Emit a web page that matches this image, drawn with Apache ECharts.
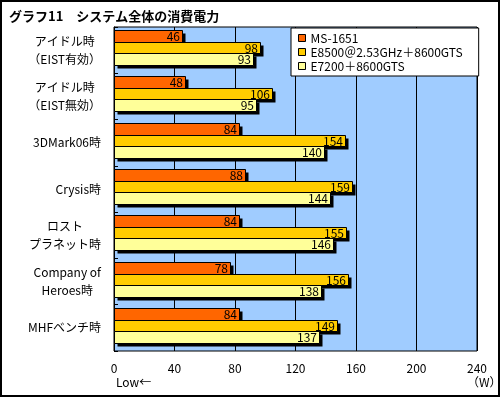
<!DOCTYPE html>
<html><head><meta charset="utf-8">
<script src="https://cdn.jsdelivr.net/npm/echarts@6/dist/echarts.min.js"></script>
<style>
html,body{margin:0;padding:0;background:#fff;}
#wrap{width:500px;height:397px;box-sizing:border-box;border:2px solid #000;position:relative;}
#c{position:absolute;left:-2px;top:-2px;width:500px;height:397px;}
</style></head>
<body><div id="wrap"><div id="c"></div></div>
<script>
const title = 'グラフ11　システム全体の消費電力';
const categories = ['アイドル時\n（EIST有効）','アイドル時\n（EIST無効）','3DMark06時','Crysis時','ロスト\nプラネット時','Company of\nHeroes時','MHFベンチ時'];
const seriesNames = ['MS-1651','E8500＠2.53GHz＋8600GTS','E7200＋8600GTS'];
const ms1651 = [46,48,84,88,84,78,84];
const e8500 = [98,106,154,159,155,156,149];
const e7200 = [93,95,140,144,146,138,137];
const xTicks = [0,40,80,120,160,200,240];
const colors = ['#ff6600','#ffcc00','#ffff99'];
const FONT = '"Noto Sans CJK JP", sans-serif';

const chart = echarts.init(document.getElementById('c'));
const values = [ms1651, e8500, e7200];

function makeRender(si){
  return function(params, api){
    const v = api.value(0), ci = api.value(1);
    const p0 = api.coord([0, ci]);
    const p1 = api.coord([v, ci]);
    const top = Math.round(p0[1] - 20) + Math.round(si*11.7);
    const bottom = Math.round(p0[1] - 20) + Math.round((si+1)*11.7);
    const x0 = Math.round(p0[0]) + 0.5, x1 = Math.round(p1[0]) - 1.5;
    const y = top + 0.5, h = bottom - top, w = x1 - x0;
    return {type:'group', children:[
      {type:'rect', shape:{x:x0+3, y:y+3, width:w, height:h}, style:{fill:'#000'}},
      {type:'rect', shape:{x:x0, y:y, width:w, height:h},
        style:{fill:colors[si], stroke:'#000', lineWidth:1},
        textContent:{style:{text:String(v), fill:'#000', font:'12px '+FONT}},
        textConfig:{position:'insideRight', distance:3}}
    ]};
  };
}

const series = seriesNames.map((n,i)=>({
  name:n, type:'custom', renderItem:makeRender(i),
  encode:{x:0, y:1},
  itemStyle:{color:colors[i], borderColor:'#000', borderWidth:1},
  data:values[i].map((v,j)=>[v,j])
}));

chart.setOption({
  animation:false,
  title:{text:title,left:4,top:5,textStyle:{fontFamily:FONT,fontSize:13,fontWeight:'bold',color:'#000'}},
  legend:{orient:'vertical',left:291,top:28,itemWidth:7,itemHeight:7,itemGap:2,icon:'rect',
    backgroundColor:'#fff',borderColor:'#000',borderWidth:1,padding:[4,16,4,7],
    itemStyle:{borderColor:'#000',borderWidth:1},
    textStyle:{fontFamily:FONT,fontSize:12,color:'#000',padding:[0,0,0,0]},
    data:seriesNames},
  grid:{left:114,right:23,top:27,bottom:46,show:true,backgroundColor:'#a0ccff',borderColor:'#000',borderWidth:1},
  xAxis:{type:'value',min:0,max:240,interval:40,
    axisLine:{show:false},axisTick:{show:false},
    splitLine:{show:true,lineStyle:{color:'#000',width:1}},
    axisLabel:{fontFamily:FONT,fontSize:12,color:'#000',margin:11,formatter:v=>xTicks.includes(v)?String(v):''}},
  yAxis:{type:'category',inverse:true,data:categories,
    axisLine:{show:true,lineStyle:{color:'#000'}},
    axisTick:{show:true,inside:true,length:4,lineStyle:{color:'#000'}},
    axisLabel:{margin:13,align:'right',color:'#000',fontFamily:FONT,fontSize:12,lineHeight:18,
      formatter:v=>v.split('\n').map(s=>'{c|'+s+'}').join('\n'),
      rich:{c:{align:'center',fontFamily:FONT,fontSize:12,lineHeight:18,color:'#000'}}}},
  graphic:[
    {type:'text',left:116,top:376,style:{text:'Low←',font:'12px '+FONT,fill:'#000'}},
    {type:'text',left:467,top:376,style:{text:'（W）',font:'12px '+FONT,fill:'#000'}}
  ],
  series:series
});
</script></body></html>
